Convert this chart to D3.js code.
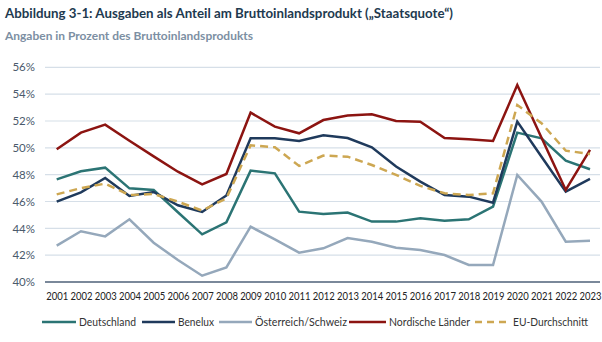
<!DOCTYPE html>
<html><head><meta charset="utf-8">
<script src="https://cdn.jsdelivr.net/npm/d3@7"></script>
<style>body{margin:0;background:#fff;} svg{display:block;}</style>
</head><body>
<svg id="c" width="602" height="342"></svg>
<script>
const years = d3.range(2001, 2024);
const deutschland = [47.65,48.25,48.52,46.98,46.86,45.2,43.55,44.45,48.3,48.1,45.24,45.07,45.17,44.5,44.5,44.75,44.57,44.67,45.61,51.13,50.71,49.04,48.4];
const benelux = [45.99,46.68,47.75,46.41,46.71,45.72,45.22,46.45,50.71,50.71,50.51,50.93,50.73,50.04,48.6,47.48,46.48,46.36,45.91,51.95,49.34,46.73,47.68];
const oesterreichSchweiz = [42.71,43.78,43.4,44.67,42.93,41.64,40.47,41.09,44.12,43.18,42.19,42.51,43.28,43.0,42.56,42.39,42.01,41.27,41.27,47.98,45.99,43.0,43.08];
const nordisch = [49.89,51.13,51.73,50.53,49.36,48.22,47.28,48.05,52.62,51.58,51.08,52.07,52.4,52.5,52.0,51.95,50.73,50.63,50.51,54.68,50.75,46.86,49.84];
const euSchnitt = [46.53,47.0,47.33,46.48,46.56,45.99,45.32,46.24,50.19,50.04,48.65,49.42,49.34,48.72,47.98,47.16,46.61,46.48,46.61,53.19,51.83,49.79,49.54];
const yTicks = [40,42,44,46,48,50,52,54,56];
const seriesNames = ["Deutschland","Benelux","Österreich/Schweiz","Nordische Länder","EU-Durchschnitt"];
const seriesValues = [deutschland, benelux, oesterreichSchweiz, nordisch, euSchnitt];
const colors = ["#2b7474","#1f3a5c","#95a8bb","#8c1411","#cda752"];

const svg = d3.select("#c");
const font = "Lato, 'Open Sans', sans-serif";

svg.append("text").attr("x",5).attr("y",18).attr("font-family",font).attr("font-weight","bold")
  .attr("font-size",13.8).attr("fill","#1e3a4f")
  .attr("textLength",448).attr("lengthAdjust","spacingAndGlyphs")
  .text("Abbildung 3-1: Ausgaben als Anteil am Bruttoinlandsprodukt („Staatsquote“)");
svg.append("text").attr("x",5).attr("y",40).attr("font-family",font).attr("font-weight","bold")
  .attr("font-size",12).attr("fill","#7c8fa3")
  .attr("textLength",248).attr("lengthAdjust","spacingAndGlyphs")
  .text("Angaben in Prozent des Bruttoinlandsprodukts");

const x = d3.scalePoint().domain(years).range([56.7, 590]);
const y = d3.scaleLinear().domain([40,56]).range([282, 67.3]);

const g = svg.append("g");
g.selectAll("line.grid").data(yTicks.filter(t=>t>40)).join("line")
  .attr("x1",45).attr("x2",600).attr("y1",d=>y(d)).attr("y2",d=>y(d))
  .attr("stroke","#d6dfe8").attr("stroke-width",1.2);

const yAxis = d3.axisLeft(y).tickValues(yTicks).tickSize(0).tickPadding(0).tickFormat(d=>d+"%");
const ya = svg.append("g").attr("transform","translate(35,0)").call(yAxis);
ya.select(".domain").remove();
ya.selectAll("text").attr("font-family",font).attr("font-size",11.5).attr("fill","#4a5a6c");

svg.append("line").attr("x1",45).attr("x2",600).attr("y1",y(40)).attr("y2",y(40))
  .attr("stroke","#4e6178").attr("stroke-width",1.5);

const xAxis = d3.axisBottom(x).tickSize(0).tickPadding(0);
const xa = svg.append("g").attr("transform","translate(0,292)").call(xAxis);
xa.select(".domain").remove();
xa.selectAll("text").attr("font-family",font).attr("font-size",10.5).attr("fill","#222")
  .attr("dy","0.75em").attr("textLength",22).attr("lengthAdjust","spacingAndGlyphs");

const line = d3.line().x((d,i)=>x(years[i])).y(d=>y(d));
seriesValues.forEach((vals,k)=>{
  svg.append("path").datum(vals).attr("d",line).attr("fill","none")
    .attr("stroke",colors[k]).attr("stroke-width",2.5).attr("stroke-linejoin","miter")
    .attr("stroke-dasharray", k===4 ? "8,5" : null);
});

const legX = [42,142,219,349,475];
const legLen = [34,33,33,37,31];
const legTextX = [79,178,255,389,513];
const legTextW = [57,36,92,81,75];
const ly = 322;
seriesNames.forEach((n,k)=>{
  svg.append("line").attr("x1",legX[k]).attr("x2",legX[k]+legLen[k]).attr("y1",ly).attr("y2",ly)
    .attr("stroke",colors[k]).attr("stroke-width",2.5).attr("stroke-dasharray",k===4?"7,5":null);
  svg.append("text").attr("x",legTextX[k]).attr("y",ly+4).attr("font-family",font)
    .attr("font-size",12).attr("fill","#333")
    .attr("textLength",legTextW[k]).attr("lengthAdjust","spacingAndGlyphs").text(n);
});
</script>
</body></html>
